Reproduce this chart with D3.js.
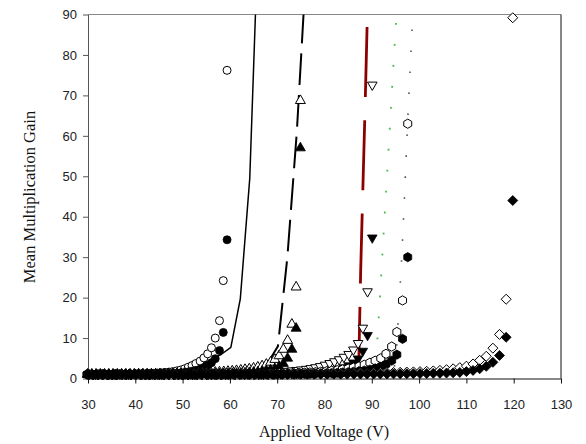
<!DOCTYPE html>
<html>
<head>
<meta charset="utf-8">
<script src="https://cdn.jsdelivr.net/npm/d3@7"></script>
<style>
  body { margin: 0; background: #fff; }
  svg { display: block; }
</style>
</head>
<body>
<svg id="chart" width="586" height="444"></svg>
<script>
// ---- Axis ticks ----
const xTicks = [30, 40, 50, 60, 70, 80, 90, 100, 110, 120, 130];
const yTicks = [0, 10, 20, 30, 40, 50, 60, 70, 80, 90];

// ---- Measured gain: circles ----
const circleV = [30.0, 30.8, 31.6, 32.4, 33.2, 34.1, 34.9, 35.7, 36.5, 37.3, 38.1, 39.0, 39.8, 40.6, 41.4, 42.2, 43.0, 43.9, 44.7, 45.5, 46.3, 47.1, 47.9, 48.8, 49.6, 50.4, 51.2, 52.0, 52.8, 53.7, 54.5, 55.3, 56.1, 56.9, 57.8, 58.6, 59.4];
const circleOpen = [1.00, 1.01, 1.01, 1.02, 1.03, 1.03, 1.04, 1.05, 1.06, 1.07, 1.08, 1.10, 1.12, 1.14, 1.17, 1.20, 1.24, 1.29, 1.34, 1.40, 1.48, 1.58, 1.70, 1.90, 2.10, 2.40, 2.80, 3.20, 3.70, 4.30, 5.10, 6.10, 7.60, 10.0, 14.3, 24.2, 76.2];
const circleFilled = [1.00, 1.00, 1.00, 1.00, 1.01, 1.01, 1.01, 1.02, 1.02, 1.03, 1.03, 1.04, 1.05, 1.06, 1.07, 1.08, 1.09, 1.11, 1.13, 1.15, 1.18, 1.22, 1.27, 1.33, 1.40, 1.50, 1.62, 1.80, 2.00, 2.30, 2.70, 3.20, 3.90, 4.90, 6.90, 11.4, 34.3];

// ---- Measured gain: triangles ----
const triV = [29.9, 30.8, 31.7, 32.6, 33.5, 34.4, 35.3, 36.2, 37.1, 38.0, 38.9, 39.8, 40.7, 41.6, 42.5, 43.4, 44.3, 45.2, 46.1, 47.0, 47.9, 48.8, 49.7, 50.6, 51.5, 52.4, 53.3, 54.2, 55.1, 56.0, 56.9, 57.8, 58.7, 59.6, 60.5, 61.4, 62.3, 63.2, 64.1, 65.0, 65.9, 66.8, 67.7, 68.6, 69.5, 70.4, 71.3, 72.2, 73.1, 74.0, 74.9];
const triOpen = [1.00, 1.00, 1.00, 1.01, 1.01, 1.02, 1.02, 1.03, 1.03, 1.04, 1.04, 1.05, 1.06, 1.07, 1.08, 1.09, 1.10, 1.12, 1.13, 1.15, 1.17, 1.19, 1.21, 1.24, 1.27, 1.30, 1.34, 1.38, 1.42, 1.47, 1.53, 1.59, 1.66, 1.74, 1.83, 1.93, 2.05, 2.20, 2.35, 2.55, 2.80, 3.10, 3.50, 4.00, 4.70, 5.60, 7.20, 9.40, 13.4, 22.6, 68.7];
const triFilled = [1.00, 1.00, 1.00, 1.00, 1.00, 1.00, 1.00, 1.01, 1.01, 1.01, 1.01, 1.01, 1.02, 1.02, 1.02, 1.02, 1.03, 1.03, 1.03, 1.04, 1.04, 1.05, 1.05, 1.06, 1.06, 1.07, 1.08, 1.09, 1.10, 1.11, 1.12, 1.14, 1.16, 1.19, 1.22, 1.26, 1.31, 1.37, 1.44, 1.52, 1.62, 1.75, 1.90, 2.10, 2.40, 2.90, 3.70, 5.00, 7.20, 12.4, 57.0];

// ---- Measured gain: inverted triangles ----
const invV = [30.1, 31.1, 32.1, 33.1, 34.1, 35.1, 36.1, 37.1, 38.1, 39.1, 40.1, 41.1, 42.1, 43.1, 44.1, 45.1, 46.1, 47.1, 48.1, 49.1, 50.1, 51.1, 52.1, 53.1, 54.1, 55.1, 56.1, 57.1, 58.1, 59.1, 60.1, 61.1, 62.1, 63.1, 64.1, 65.1, 66.1, 67.1, 68.1, 69.1, 70.1, 71.1, 72.1, 73.1, 74.1, 75.1, 76.1, 77.1, 78.1, 79.1, 80.1, 81.1, 82.1, 83.1, 84.1, 85.1, 86.1, 87.1, 88.1, 89.1, 90.1];
const invOpen = [1.00, 1.00, 1.00, 1.00, 1.01, 1.01, 1.01, 1.01, 1.01, 1.01,
                 1.02, 1.02, 1.02, 1.03, 1.03, 1.04, 1.04, 1.05, 1.05, 1.06,
                 1.07, 1.08, 1.09, 1.10, 1.12, 1.13, 1.15, 1.17, 1.19, 1.21,
                 1.23, 1.26, 1.29, 1.32, 1.36, 1.40, 1.44, 1.49, 1.54, 1.60,
                 1.67, 1.75, 1.83, 1.93, 2.04, 2.17, 2.32, 2.50, 2.72, 3.00,
                 3.35, 3.75, 4.20, 4.70, 5.30, 6.00, 7.10, 8.70, 12.5, 21.5,
                 72.6];
const invFilled = [1.00, 1.00, 1.00, 1.00, 1.00, 1.00, 1.00, 1.00, 1.00, 1.01,
                   1.01, 1.01, 1.01, 1.01, 1.01, 1.01, 1.02, 1.02, 1.02, 1.02,
                   1.02, 1.02, 1.03, 1.03, 1.03, 1.03, 1.04, 1.04, 1.04, 1.05,
                   1.05, 1.05, 1.06, 1.06, 1.07, 1.07, 1.08, 1.09, 1.10, 1.11,
                   1.13, 1.15, 1.18, 1.22, 1.26, 1.31, 1.37, 1.44, 1.52, 1.62,
                   1.75, 1.90, 2.10, 2.35, 2.70, 3.20, 3.90, 4.90, 6.80, 10.7,
                   34.8];

// ---- Measured gain: hexagons ----
const hexV = [29.8, 30.9, 32.1, 33.2, 34.4, 35.5, 36.7, 37.8, 39.0, 40.1, 41.3, 42.4, 43.6, 44.7, 45.9, 47.0, 48.2, 49.3, 50.5, 51.6, 52.8, 53.9, 55.1, 56.2, 57.4, 58.5, 59.7, 60.8, 62.0, 63.1, 64.3, 65.4, 66.6, 67.7, 68.9, 70.0, 71.2, 72.3, 73.5, 74.6, 75.8, 76.9, 78.1, 79.2, 80.4, 81.5, 82.7, 83.8, 85.0, 86.1, 87.3, 88.4, 89.6, 90.7, 91.9, 93.0, 94.2, 95.3, 96.5, 97.6];
const hexOpen = [1.00, 1.00, 1.00, 1.00, 1.00, 1.01, 1.01, 1.01, 1.01, 1.01,
                 1.02, 1.02, 1.02, 1.02, 1.03, 1.03, 1.03, 1.04, 1.04, 1.05,
                 1.05, 1.06, 1.06, 1.07, 1.08, 1.08, 1.09, 1.10, 1.11, 1.12,
                 1.13, 1.14, 1.15, 1.17, 1.19, 1.21, 1.24, 1.27, 1.32, 1.37,
                 1.43, 1.50, 1.58, 1.67, 1.78, 1.91, 2.06, 2.24, 2.45, 2.70,
                 3.00, 3.40, 3.90, 4.40, 5.00, 6.10, 7.90, 11.5, 19.3, 63.0];
const hexFilled = [1.00, 1.00, 1.00, 1.00, 1.00, 1.00, 1.00, 1.00, 1.00, 1.00,
                   1.00, 1.00, 1.00, 1.00, 1.01, 1.01, 1.01, 1.01, 1.01, 1.01,
                   1.02, 1.02, 1.02, 1.02, 1.02, 1.03, 1.03, 1.03, 1.03, 1.04,
                   1.04, 1.05, 1.05, 1.06, 1.07, 1.08, 1.09, 1.10, 1.11, 1.13,
                   1.15, 1.17, 1.20, 1.24, 1.28, 1.33, 1.39, 1.46, 1.55, 1.66,
                   1.80, 1.97, 2.20, 2.50, 2.90, 3.50, 4.40, 5.90, 9.80, 30.0];

// ---- Measured gain: diamonds ----
const diaV = [30.2, 31.6, 33.0, 34.4, 35.8, 37.2, 38.6, 40.0, 41.4, 42.8, 44.2, 45.6, 47.0, 48.4, 49.8, 51.2, 52.6, 54.0, 55.4, 56.8, 58.2, 59.6, 61.0, 62.4, 63.8, 65.2, 66.6, 68.0, 69.4, 70.8, 72.2, 73.6, 75.0, 76.4, 77.8, 79.2, 80.6, 82.0, 83.4, 84.8, 86.2, 87.6, 89.0, 90.4, 91.8, 93.2, 94.6, 96.0, 97.4, 98.8, 100.2, 101.6, 103.0, 104.4, 105.8, 107.2, 108.6, 110.0, 111.4, 112.8, 114.2, 115.6, 117.0, 118.4, 119.8];
const diaOpen = [1.00, 1.00, 1.00, 1.00, 1.00, 1.01, 1.01, 1.01, 1.01, 1.01,
                 1.02, 1.02, 1.02, 1.02, 1.03, 1.03, 1.03, 1.04, 1.04, 1.05,
                 1.05, 1.06, 1.06, 1.07, 1.08, 1.08, 1.09, 1.10, 1.11, 1.12,
                 1.14, 1.15, 1.17, 1.18, 1.20, 1.21, 1.23, 1.25, 1.27, 1.29,
                 1.30, 1.33, 1.36, 1.39, 1.42, 1.46, 1.50, 1.54, 1.59, 1.64,
                 1.70, 1.78, 1.88, 2.00, 2.18, 2.40, 2.68, 3.05, 3.60, 4.50,
                 5.50, 7.50, 10.9, 19.6, 89.2];
const diaFilled = [1.00, 1.00, 1.00, 1.00, 1.00, 1.00, 1.00, 1.00, 1.00, 1.00,
                   1.00, 1.00, 1.00, 1.00, 1.00, 1.01, 1.01, 1.01, 1.01, 1.01,
                   1.01, 1.02, 1.02, 1.02, 1.02, 1.03, 1.03, 1.03, 1.03, 1.04,
                   1.04, 1.04, 1.05, 1.05, 1.06, 1.06, 1.07, 1.07, 1.08, 1.09,
                   1.09, 1.10, 1.11, 1.12, 1.13, 1.14, 1.15, 1.17, 1.18, 1.20,
                   1.22, 1.24, 1.27, 1.30, 1.35, 1.40, 1.50, 1.70, 2.00, 2.40,
                   3.00, 4.00, 5.70, 10.2, 44.0];

// ---- Model curves ----
const solidV = [30, 40, 45, 50, 54, 56.5, 58.2, 60.2, 62.2, 64.2, 66.2];
const solidG = [1.0, 1.2, 1.4, 2.0, 3.5, 4.9, 6.0, 7.7, 19.7, 49.5, 117];
const dashV = [30, 40, 50, 58, 62, 65, 67, 68.2, 70.15, 72.15, 74.15, 76.15];
const dashG = [1.0, 1.05, 1.2, 1.6, 2.0, 2.6, 3.2, 4.2, 8.0, 30, 61, 102];
const redV = [87.2, 87.65, 88.1, 88.6, 89.0];
const redG = [1.0, 26.7, 46.5, 68, 86.9];
const greenV = [90.4, 91.2, 95.1];
const greenG = [1.0, 9.9, 87.9];
const greyV = [94.6, 95.3, 96.3, 96.8, 97.6, 98.5];
const greyG = [1.0, 8.6, 29.4, 42, 64, 86.3];

// ---- Layout ----
const plot = { left: 88, right: 561, top: 14.5, bottom: 378.5 };

const svg = d3.select("#chart");
const x = d3.scaleLinear().domain([30, 130]).range([plot.left, plot.right]);
const y = d3.scaleLinear().domain([0, 90]).range([plot.bottom, plot.top]);

svg.append("defs").append("clipPath").attr("id", "plotClip")
  .append("rect")
  .attr("x", plot.left).attr("y", plot.top)
  .attr("width", plot.right - plot.left).attr("height", plot.bottom - plot.top);

// ---- Frame (top and right borders) ----
svg.append("line")
  .attr("x1", plot.left).attr("x2", plot.right)
  .attr("y1", plot.top).attr("y2", plot.top)
  .attr("stroke", "#888").attr("stroke-width", 1);
svg.append("line")
  .attr("x1", plot.right).attr("x2", plot.right)
  .attr("y1", plot.top).attr("y2", plot.bottom)
  .attr("stroke", "#111").attr("stroke-width", 1);

// ---- Axes ----
const xAxis = svg.append("g")
  .attr("transform", `translate(0,${plot.bottom})`)
  .call(d3.axisBottom(x).tickValues(xTicks).tickSize(5).tickPadding(16).tickSizeOuter(0));
const yAxis = svg.append("g")
  .attr("transform", `translate(${plot.left},0)`)
  .call(d3.axisLeft(y).tickValues(yTicks).tickSize(5).tickPadding(6).tickSizeOuter(0));

[xAxis, yAxis].forEach(g => {
  g.selectAll("text")
    .attr("font-family", "'Liberation Sans', Arial, sans-serif")
    .attr("font-size", "13px")
    .attr("fill", "#222");
});
xAxis.select(".domain").attr("stroke", "#111");
xAxis.selectAll(".tick line").attr("stroke", "#111");
yAxis.select(".domain").attr("stroke", "#555");
yAxis.selectAll(".tick line").attr("stroke", "#555");

// ---- Axis titles ----
svg.append("text")
  .attr("x", 324).attr("y", 437)
  .attr("text-anchor", "middle")
  .attr("font-family", "'Liberation Serif', 'Times New Roman', serif")
  .attr("font-size", "16px")
  .attr("fill", "#111")
  .text("Applied Voltage (V)");
svg.append("text")
  .attr("transform", "translate(35,197) rotate(-90)")
  .attr("text-anchor", "middle")
  .attr("font-family", "'Liberation Serif', 'Times New Roman', serif")
  .attr("font-size", "16.5px")
  .attr("fill", "#111")
  .text("Mean Multiplication Gain");

// ---- Model curves (drawn from the top end downwards so dashes start there) ----
function pairs(vs, gs) { return vs.map((v, i) => [v, gs[i]]); }
const lineGen = d3.line().x(d => x(d[0])).y(d => y(d[1]));
const curves = svg.append("g").attr("clip-path", "url(#plotClip)");

function dashPhase(node, yTarget, period) {
  let lo = 0, hi = node.getTotalLength();
  for (let i = 0; i < 40; i++) {
    const mid = (lo + hi) / 2;
    if (node.getPointAtLength(mid).y < yTarget) lo = mid; else hi = mid;
  }
  const L = (lo + hi) / 2;
  return (period - (L % period)) % period;
}

function drawCurve(vs, gs, style, phaseAt) {
  const p = curves.append("path")
    .datum(pairs(vs, gs).reverse())
    .attr("d", lineGen)
    .attr("fill", "none")
    .attr("stroke", style.color)
    .attr("stroke-width", style.width)
    .attr("stroke-linejoin", "round");
  if (style.dash) {
    p.attr("stroke-dasharray", style.dash.join(","));
    if (phaseAt != null) {
      const period = style.dash[0] + style.dash[1];
      p.attr("stroke-dashoffset", dashPhase(p.node(), phaseAt, period));
    }
  }
  return p;
}

drawCurve(solidV, solidG, { color: "#000", width: 1.5 });
drawCurve(dashV, dashG, { color: "#000", width: 2, dash: [31.7, 10] }, 95);
drawCurve(redV, redG, { color: "#8b0000", width: 2.8, dash: [70, 23.3] });
drawCurve(greenV, greenG, { color: "#44bb44", width: 1.8, dash: [1.8, 19.2] });
drawCurve(greyV, greyG, { color: "#555", width: 1.6, dash: [1.6, 19.4] });

// ---- Marker shapes ----
const symCircle = { draw(ctx, r) { ctx.moveTo(r, 0); ctx.arc(0, 0, r, 0, 2 * Math.PI); } };
const symTriUp = { draw(ctx, s) {
  const h = s * Math.sqrt(3);
  ctx.moveTo(0, -2 * h / 3); ctx.lineTo(s, h / 3); ctx.lineTo(-s, h / 3); ctx.closePath();
} };
const symTriDown = { draw(ctx, s) {
  const h = s * Math.sqrt(3);
  ctx.moveTo(0, 2 * h / 3); ctx.lineTo(s, -h / 3); ctx.lineTo(-s, -h / 3); ctx.closePath();
} };
const symHex = { draw(ctx, r) {
  for (let k = 0; k < 6; k++) {
    const a = -Math.PI / 2 + k * Math.PI / 3;
    const px = r * Math.cos(a), py = r * Math.sin(a);
    if (k === 0) ctx.moveTo(px, py); else ctx.lineTo(px, py);
  }
  ctx.closePath();
} };
const symDiamond = { draw(ctx, r) {
  ctx.moveTo(0, -r); ctx.lineTo(r, 0); ctx.lineTo(0, r); ctx.lineTo(-r, 0); ctx.closePath();
} };

const series = [
  { v: circleV, open: circleOpen, filled: circleFilled, shape: symCircle, size: 4.0 },
  { v: triV, open: triOpen, filled: triFilled, shape: symTriUp, size: 5.0 },
  { v: invV, open: invOpen, filled: invFilled, shape: symTriDown, size: 4.8 },
  { v: hexV, open: hexOpen, filled: hexFilled, shape: symHex, size: 4.6 },
  { v: diaV, open: diaOpen, filled: diaFilled, shape: symDiamond, size: 5.0 }
];

const markers = svg.append("g");
series.forEach(s => {
  const sym = d3.symbol().type(s.shape).size(s.size);
  markers.append("g").selectAll("path")
    .data(pairs(s.v, s.open))
    .join("path")
    .attr("transform", d => `translate(${x(d[0])},${y(d[1])})`)
    .attr("d", sym)
    .attr("fill", "#fff")
    .attr("stroke", "#000")
    .attr("stroke-width", 1);
  markers.append("g").selectAll("path")
    .data(pairs(s.v, s.filled))
    .join("path")
    .attr("transform", d => `translate(${x(d[0])},${y(d[1])})`)
    .attr("d", sym)
    .attr("fill", "#000")
    .attr("stroke", "#000")
    .attr("stroke-width", 0.8);
});
</script>
</body>
</html>
